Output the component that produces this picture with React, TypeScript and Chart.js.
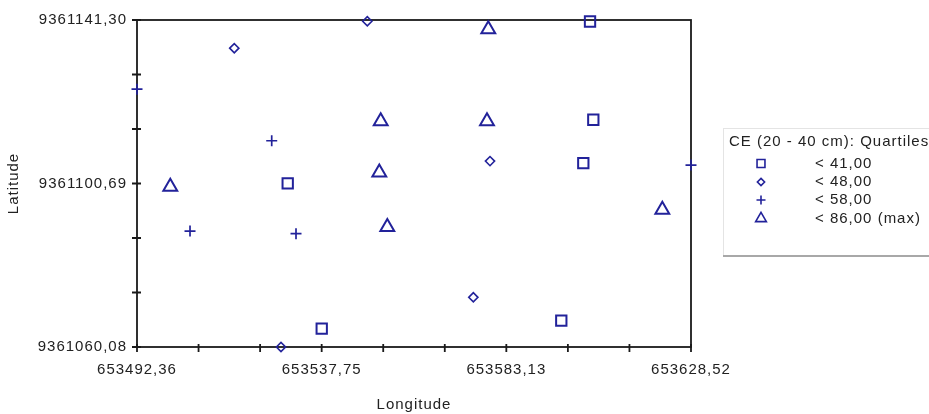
import React, { useEffect, useRef } from 'react';
import { Chart, registerables } from 'chart.js';

Chart.register(...registerables);

// Axis extents and tick labels
const LON_MIN = 653492.36;
const LON_MAX = 653628.52;
const LAT_MIN = 9361060.08;
const LAT_MAX = 9361141.3;
const LON_TICK_LABELS = ['653492,36', '653537,75', '653583,13', '653628,52'];
const LAT_TICK_LABELS = ['9361060,08', '9361100,69', '9361141,30'];

// Quartile classes
const CLASS_LABELS = ['< 41,00', '< 48,00', '< 58,00', '< 86,00 (max)'];
const LEGEND_TITLE = 'CE (20 - 40 cm): Quartiles';

// < 41,00 (squares)
const Q1_LON = [653603.7, 653604.51, 653602.05, 653529.4, 653537.76, 653596.64];
const Q1_LAT = [9361140.93, 9361116.53, 9361105.75, 9361100.71, 9361064.65, 9361066.63];
// < 48,00 (diamonds)
const Q2_LON = [653516.27, 653548.96, 653579.12, 653575.02, 653527.75];
const Q2_LAT = [9361134.3, 9361141.0, 9361106.25, 9361072.42, 9361060.08];
// < 58,00 (crosses)
const Q3_LON = [653492.36, 653525.47, 653505.39, 653531.44, 653628.52];
const Q3_LAT = [9361124.12, 9361111.31, 9361088.87, 9361088.23, 9361105.26];
// < 86,00 (max) (triangles)
const Q4_LON = [653578.7, 653552.26, 653578.38, 653551.91, 653500.54, 653553.88, 653621.47];
const Q4_LAT = [9361139.01, 9361116.18, 9361116.18, 9361103.44, 9361099.89, 9361089.86, 9361094.18];

const NAVY = '#22229a';
const TEXT = '#222222';
const FONT = { family: '"Liberation Sans", Arial, sans-serif', size: 15 };

const toPts = (xs: number[], ys: number[]) => xs.map((v, i) => ({ x: v, y: ys[i] }));

function drawMarker(ctx: CanvasRenderingContext2D, style: string, x: number, y: number, r: number) {
  ctx.beginPath();
  if (style === 'rect') {
    const s = r * Math.SQRT1_2;
    ctx.rect(x - s, y - s, 2 * s, 2 * s);
  } else if (style === 'rectRot') {
    ctx.moveTo(x, y - r);
    ctx.lineTo(x + r, y);
    ctx.lineTo(x, y + r);
    ctx.lineTo(x - r, y);
    ctx.closePath();
  } else if (style === 'cross') {
    ctx.moveTo(x - r, y);
    ctx.lineTo(x + r, y);
    ctx.moveTo(x, y - r);
    ctx.lineTo(x, y + r);
  } else if (style === 'triangle') {
    ctx.moveTo(x, y - r);
    ctx.lineTo(x + r * Math.sin(Math.PI / 3), y + r / 2);
    ctx.lineTo(x - r * Math.sin(Math.PI / 3), y + r / 2);
    ctx.closePath();
  }
  ctx.stroke();
}

const spacingPlugin = {
  id: 'spacing',
  beforeUpdate(chart: any) {
    chart.ctx.letterSpacing = '1px';
  },
  beforeDraw(chart: any) {
    chart.ctx.letterSpacing = '1px';
  },
};

const framePlugin = {
  id: 'frame',
  beforeDatasetsDraw(chart: any) {
    const { ctx, chartArea: a, scales } = chart;
    const x = scales.x;
    const y = scales.y;
    ctx.save();
    ctx.strokeStyle = '#1a1a1a';
    ctx.lineWidth = 1.8;
    ctx.strokeRect(a.left, a.top, a.right - a.left, a.bottom - a.top);
    ctx.beginPath();
    x.ticks.forEach((t: any) => {
      const px = x.getPixelForValue(t.value);
      ctx.moveTo(px, a.bottom - 3);
      ctx.lineTo(px, a.bottom + 5);
    });
    y.ticks.forEach((t: any) => {
      const py = y.getPixelForValue(t.value);
      ctx.moveTo(a.left - 5, py);
      ctx.lineTo(a.left + 4, py);
    });
    ctx.stroke();
    ctx.restore();
  },
};

const legendPlugin = {
  id: 'boxLegend',
  afterDraw(chart: any) {
    const { ctx } = chart;
    const bx = 723;
    const by = 128;
    const bw = 220;
    const bh = 127;
    ctx.save();
    ctx.fillStyle = '#ffffff';
    ctx.fillRect(bx, by, bw, bh);
    ctx.strokeStyle = '#e4e4e4';
    ctx.lineWidth = 1;
    ctx.strokeRect(bx + 0.5, by + 0.5, bw, bh);
    ctx.strokeStyle = '#a8a8a8';
    ctx.lineWidth = 2;
    ctx.beginPath();
    ctx.moveTo(bx, by + bh + 1);
    ctx.lineTo(bx + bw, by + bh + 1);
    ctx.stroke();

    ctx.font = `${FONT.size}px ${FONT.family}`;
    ctx.fillStyle = TEXT;
    ctx.textBaseline = 'middle';
    ctx.textAlign = 'left';
    ctx.fillText(LEGEND_TITLE, 729, 142);

    const rowY = [163.5, 182, 200, 218.5];
    const sizes: Record<string, number> = { rect: 5.6, rectRot: 3.6, cross: 4.5, triangle: 6.2 };
    chart.data.datasets.forEach((ds: any, i: number) => {
      ctx.strokeStyle = NAVY;
      ctx.lineWidth = 1.6;
      drawMarker(ctx, ds.pointStyle, 761, rowY[i], sizes[ds.pointStyle]);
      ctx.fillStyle = TEXT;
      ctx.fillText(ds.label, 815, rowY[i]);
    });
    ctx.restore();
  },
};

export default function App() {
  const ref = useRef<HTMLCanvasElement>(null);

  useEffect(() => {
    if (!ref.current) return;
    const common = {
      borderColor: NAVY,
      backgroundColor: 'rgba(0,0,0,0)',
      clip: false as any,
      showLine: false,
    };
    const chart = new Chart(ref.current, {
      type: 'scatter',
      data: {
        datasets: [
          { ...common, label: CLASS_LABELS[0], data: toPts(Q1_LON, Q1_LAT), pointStyle: 'rect', pointRadius: 7.3, borderWidth: 2 },
          { ...common, label: CLASS_LABELS[1], data: toPts(Q2_LON, Q2_LAT), pointStyle: 'rectRot', pointRadius: 4.6, borderWidth: 1.6 },
          { ...common, label: CLASS_LABELS[2], data: toPts(Q3_LON, Q3_LAT), pointStyle: 'cross', pointRadius: 5.5, borderWidth: 1.7 },
          { ...common, label: CLASS_LABELS[3], data: toPts(Q4_LON, Q4_LAT), pointStyle: 'triangle', pointRadius: 8, borderWidth: 2 },
        ] as any,
      },
      options: {
        animation: false,
        responsive: false,
        devicePixelRatio: 1,
        layout: { padding: { top: 20, right: 238, left: 0, bottom: 0 } },
        plugins: {
          legend: { display: false },
          tooltip: { enabled: false },
        },
        scales: {
          x: {
            type: 'linear',
            position: 'bottom',
            min: LON_MIN,
            max: LON_MAX,
            afterBuildTicks: (s: any) => {
              s.ticks = Array.from({ length: 10 }, (_, i) => ({ value: LON_MIN + (i * (LON_MAX - LON_MIN)) / 9 }));
            },
            afterFit: (s: any) => {
              s.height = 67;
            },
            ticks: {
              autoSkip: false,
              maxRotation: 0,
              padding: 14,
              color: TEXT,
              font: FONT,
              callback: (_v: any, i: number) => (i % 3 === 0 ? LON_TICK_LABELS[i / 3] : ''),
            },
            grid: { display: false, drawTicks: false },
            border: { display: false },
            title: { display: true, text: 'Longitude', color: TEXT, font: FONT, padding: { top: 0, bottom: 0 } },
          },
          y: {
            type: 'linear',
            min: LAT_MIN,
            max: LAT_MAX,
            afterBuildTicks: (s: any) => {
              s.ticks = Array.from({ length: 7 }, (_, i) => ({ value: LAT_MIN + (i * (LAT_MAX - LAT_MIN)) / 6 }));
            },
            afterFit: (s: any) => {
              s.width = 137;
            },
            ticks: {
              autoSkip: false,
              padding: 10,
              color: TEXT,
              font: FONT,
              callback: (_v: any, i: number) => (i % 3 === 0 ? LAT_TICK_LABELS[i / 3] : ''),
            },
            grid: { display: false, drawTicks: false },
            border: { display: false },
            title: { display: true, text: 'Latitude', color: TEXT, font: FONT, padding: { top: 5, bottom: 0 } },
          },
        },
      } as any,
      plugins: [spacingPlugin, framePlugin, legendPlugin],
    });
    return () => chart.destroy();
  }, []);

  return (
    <div style={{ position: 'absolute', left: 0, top: 0, width: 929, height: 414, background: '#fff' }}>
      <canvas ref={ref} width={929} height={414} style={{ display: 'block', width: 929, height: 414 }} />
    </div>
  );
}
